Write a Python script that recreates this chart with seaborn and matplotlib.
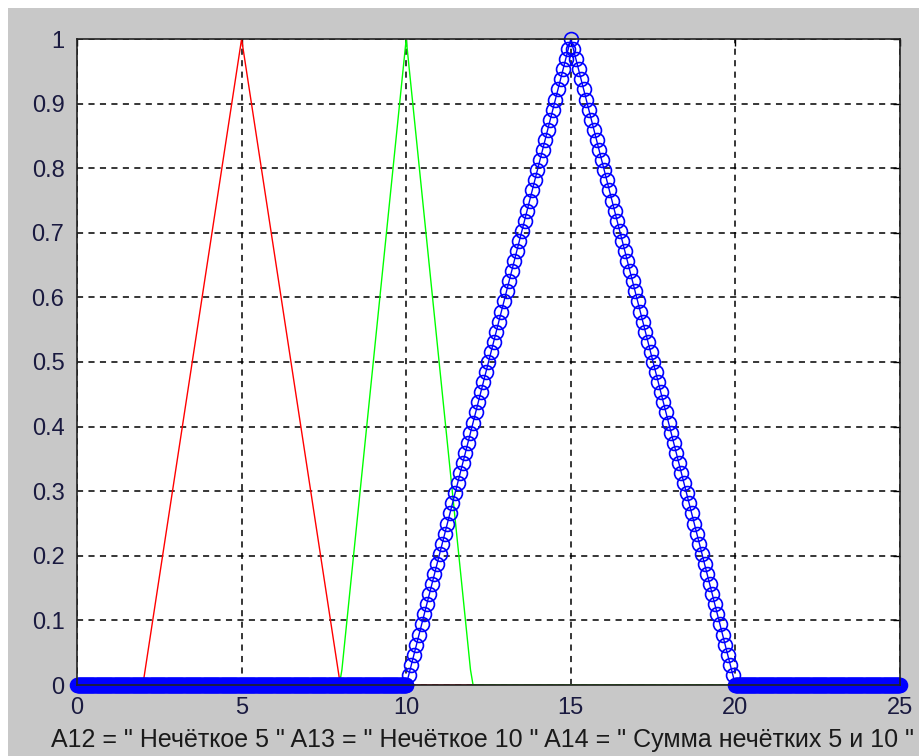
import numpy as np
import pandas as pd
import matplotlib
matplotlib.use("Agg")
import matplotlib.pyplot as plt
import seaborn as sns
from matplotlib.patches import Rectangle

# ---- data ----
x_start, x_stop, n_points = 0.0, 25.0, 321      # sampling grid for all series
zero_region_refine = 5                           # blue samples are 5x denser where A14 = 0
red_abc = [2, 5, 8]        # A12 "Нечёткое 5"
green_abc = [8, 10, 12]    # A13 "Нечёткое 10"
blue_abc = [10, 15, 20]    # A14 "Сумма нечётких 5 и 10"
x_ticks = [0, 5, 10, 15, 20, 25]
y_ticks = [0, 0.1, 0.2, 0.3, 0.4, 0.5, 0.6, 0.7, 0.8, 0.9, 1]
y_tick_labels = ["0", "0.1", "0.2", "0.3", "0.4", "0.5", "0.6", "0.7", "0.8", "0.9", "1"]
xlabel_text = 'A12 = " Нечёткое 5 " A13 = " Нечёткое 10 " A14 = " Сумма нечётких 5 и 10 "'


def trimf(x, abc):
    a, b, c = abc
    left = np.where(b > a, (x - a) / (b - a), 1.0)
    right = np.where(c > b, (c - x) / (c - b), 1.0)
    return np.clip(np.minimum(left, right), 0, 1)


x = np.linspace(x_start, x_stop, n_points)
df = pd.DataFrame({"x": x, "A12": trimf(x, red_abc), "A13": trimf(x, green_abc)})

fine = np.linspace(x_start, x_stop, (n_points - 1) * zero_region_refine + 1)
fine = fine[(fine <= blue_abc[0]) | (fine >= blue_abc[2])]
xb = np.unique(np.round(np.concatenate([x, fine]), 9))
df_blue = pd.DataFrame({"x": xb, "A14": trimf(xb, blue_abc)})

sns.set_style("white")
plt.rcParams["font.family"] = ["Liberation Sans", "DejaVu Sans"]

fig = plt.figure(figsize=(9.2, 7.56), dpi=100, facecolor="white")
fig.patches.append(Rectangle((8 / 920, 0), 1 - 8 / 920, 1 - 8 / 756,
                             transform=fig.transFigure, facecolor="#c8c8c8",
                             edgecolor="none", zorder=-10))
ax = fig.add_axes([77 / 920, 71 / 756, 823 / 920, 646 / 756])
ax.set_facecolor("white")

sns.lineplot(data=df, x="x", y="A12", color="#ff0000", lw=1.0, ax=ax,
             estimator=None, sort=False)
sns.lineplot(data=df, x="x", y="A13", color="#00ff00", lw=1.0, ax=ax,
             estimator=None, sort=False)
sns.lineplot(data=df_blue, x="x", y="A14", color="#0000ff", lw=1.0, ax=ax,
             estimator=None, sort=False, marker="o", markersize=10,
             markerfacecolor="none", markeredgecolor="#0000ff",
             markeredgewidth=1.2, clip_on=False)

ax.set_xlim(0, 25)
ax.set_ylim(0, 1)
ax.set_xticks(x_ticks)
ax.set_xticklabels([str(t) for t in x_ticks])
ax.set_yticks(y_ticks)
ax.set_yticklabels(y_tick_labels)
ax.tick_params(direction="in", length=5, width=1, labelsize=17, colors="black",
               top=True, right=True, pad=9)
ax.tick_params(axis="both", labelcolor="#1a1a40")
ax.grid(True, color="black", linestyle=(0, (4, 3.5)), linewidth=1.1)
ax.set_axisbelow(True)
for s in ax.spines.values():
    s.set_color("#222222")
    s.set_linewidth(1.2)
    s.set_visible(True)
ax.set_xlabel(xlabel_text, fontsize=18, color="#1a1a1a", labelpad=6)
ax.xaxis.label.set_x(0.493)
ax.set_ylabel("")

fig.savefig("out.png", dpi=100, facecolor=fig.get_facecolor())
